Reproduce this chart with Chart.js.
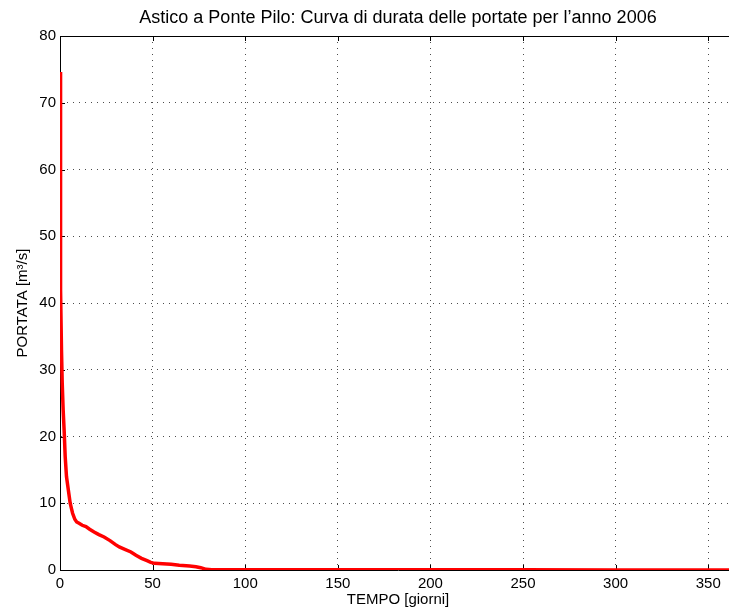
<!DOCTYPE html>
<html>
<head>
<meta charset="utf-8">
<script src="https://cdn.jsdelivr.net/npm/chart.js@4"></script>
<style>
  html, body { margin: 0; padding: 0; background: #fff; overflow: hidden; }
  #wrap { width: 729px; height: 615px; overflow: hidden; }
  canvas { display: block; }
</style>
</head>
<body>
<div id="wrap"><canvas id="c" width="736" height="615"></canvas></div>
<script>
// Data
const titleText = "Astico a Ponte Pilo: Curva di durata delle portate per l\u2019anno 2006";
const xTitle = "TEMPO [giorni]";
const yTitle = "PORTATA [m\u00B3/s]";
const xTicks = [0, 50, 100, 150, 200, 250, 300, 350];
const yTicks = [0, 10, 20, 30, 40, 50, 60, 70, 80];
const days = [0, 0.2, 0.4, 0.8, 1.2, 1.7, 2.3, 2.8, 3.5, 4.5, 5.5, 6.2, 6.8, 8, 9, 10.3, 12, 14, 16, 18.4, 21, 23.8, 27, 30, 32, 35, 38.3, 41, 44, 47, 49, 51, 55.4, 60, 64.4, 70, 73.4, 76, 78.9, 82, 100, 150, 200, 250, 300, 365];
const flow = [74.6, 55, 42, 33, 28, 24, 20.5, 17, 14, 12, 10, 9.2, 8.5, 7.6, 7.2, 7, 6.7, 6.5, 6.1, 5.7, 5.3, 4.95, 4.4, 3.8, 3.45, 3.1, 2.7, 2.2, 1.75, 1.4, 1.15, 1.0, 0.95, 0.85, 0.7, 0.6, 0.5, 0.35, 0.1, 0.05, 0.04, 0.03, 0.02, 0.02, 0.01, 0.01];

const FONT = "'Liberation Sans', Arial, Helvetica, sans-serif";

const frameAndTitle = {
  id: 'frameAndTitle',
  beforeDatasetsDraw(chart) {
    const {ctx, chartArea: a, scales: {x, y}} = chart;
    ctx.save();
    ctx.strokeStyle = '#000';
    ctx.lineWidth = 1;
    ctx.beginPath();
    // top border
    ctx.moveTo(a.left, Math.round(a.top) + 0.5);
    ctx.lineTo(a.right, Math.round(a.top) + 0.5);
    // right border
    ctx.moveTo(Math.round(a.right) - 0.5, a.top);
    ctx.lineTo(Math.round(a.right) - 0.5, a.bottom);
    const L = 5;
    xTicks.forEach(v => {
      const px = Math.round(x.getPixelForValue(v)) + 0.5;
      ctx.moveTo(px, a.bottom); ctx.lineTo(px, a.bottom - L);
      ctx.moveTo(px, a.top); ctx.lineTo(px, a.top + L);
    });
    yTicks.forEach(v => {
      const py = Math.round(y.getPixelForValue(v)) + 0.5;
      ctx.moveTo(a.left, py); ctx.lineTo(a.left + L, py);
      ctx.moveTo(a.right, py); ctx.lineTo(a.right - L, py);
    });
    ctx.stroke();
    ctx.restore();
  },
  afterDraw(chart) {
    const {ctx, chartArea: a} = chart;
    ctx.save();
    ctx.fillStyle = '#000';
    ctx.font = "18px " + FONT;
    ctx.textAlign = 'center';
    ctx.textBaseline = 'middle';
    ctx.fillText(titleText, (a.left + a.right) / 2, 18);
    ctx.restore();
  }
};

new Chart(document.getElementById('c'), {
  type: 'line',
  data: {
    datasets: [{
      data: days.map((d, i) => ({x: d, y: flow[i]})),
      borderColor: '#ff0000',
      borderWidth: 3.5,
      pointRadius: 0,
      tension: 0,
      fill: false
    }]
  },
  options: {
    responsive: false,
    animation: false,
    devicePixelRatio: 1,
    layout: { padding: { top: 36, left: 0, right: 0, bottom: 0 } },
    plugins: {
      legend: { display: false },
      tooltip: { enabled: false },
      title: { display: false }
    },
    scales: {
      x: {
        type: 'linear',
        min: 0, max: 365,
        afterBuildTicks: s => { s.ticks = xTicks.map(v => ({value: v})); },
        afterFit: s => { s.height = 45; },
        grid: { color: 'rgba(0,0,0,0.7)', lineWidth: 1, drawTicks: false },
        border: { display: true, color: '#000', width: 1, dash: [1, 5] },
        ticks: { color: '#000', padding: 5, maxRotation: 0, font: { family: FONT, size: 15 } },
        title: { display: true, text: xTitle, color: '#000', font: { family: FONT, size: 15 }, padding: { top: 0, bottom: 6 } }
      },
      y: {
        type: 'linear',
        min: 0, max: 80,
        afterBuildTicks: s => { s.ticks = yTicks.map(v => ({value: v})); },
        afterFit: s => { s.width = 60; },
        grid: { color: 'rgba(0,0,0,0.7)', lineWidth: 1, drawTicks: false },
        border: { display: true, color: '#000', width: 1, dash: [1, 5] },
        ticks: { color: '#000', padding: 4, font: { family: FONT, size: 15 } },
        title: { display: true, text: yTitle, color: '#000', font: { family: FONT, size: 15 }, padding: { top: 14, bottom: 0 } }
      }
    }
  },
  plugins: [frameAndTitle]
});
</script>
</body>
</html>
